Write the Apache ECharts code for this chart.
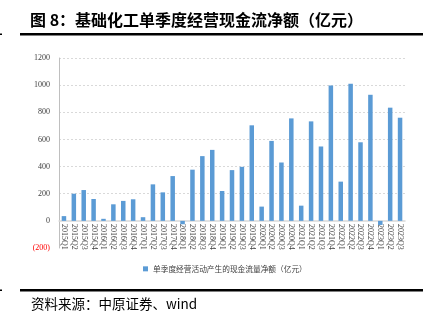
<!DOCTYPE html>
<html><head><meta charset="utf-8">
<script src="https://cdn.jsdelivr.net/npm/echarts@6/dist/echarts.min.js"></script>
<style>html,body{margin:0;padding:0;background:#fff}#c{width:430px;height:323px}</style>
</head><body><div id="c"></div>
<script>
const categories = ['2015Q1','2015Q2','2015Q3','2015Q4','2016Q1','2016Q2','2016Q3','2016Q4','2017Q1','2017Q2','2017Q3','2017Q4','2018Q1','2018Q2','2018Q3','2018Q4','2019Q1','2019Q2','2019Q3','2019Q4','2020Q1','2020Q2','2020Q3','2020Q4','2021Q1','2021Q2','2021Q3','2021Q4','2022Q1','2022Q2','2022Q3','2022Q4','2023Q1','2023Q2','2023Q3'];
const cashFlow = [35,200,227,161,15,122,147,159,27,269,210,330,-25,377,477,523,220,374,398,704,105,589,430,755,112,733,548,998,289,1010,579,929,-30,834,760];
const seriesName = '单季度经营活动产生的现金流量净额（亿元）';
const titleText = '图 8：基础化工单季度经营现金流净额（亿元）';
const sourceText = '资料来源：中原证券、wind';
const yMin = -200, yMax = 1200, yStep = 200;

const chart = echarts.init(document.getElementById('c'));
chart.setOption({
  animation: false,
  grid: {left: 59, right: 25, top: 58, bottom: 75},
  legend: {
    data: [seriesName], top: 260, left: 138, itemWidth: 5, itemHeight: 5, itemGap: 3,
    icon: 'rect',
    textStyle: {fontSize: 7.7, color: '#404040', fontFamily: 'Noto Sans CJK SC'}
  },
  xAxis: {
    type: 'category', data: categories,
    axisLine: {onZero: true, lineStyle: {color: '#d9d9d9', width: 1.5}},
    axisTick: {show: false},
    axisLabel: {rotate: -90, interval: 0, fontSize: 8, color: '#404040', fontFamily: 'Liberation Serif', margin: -24}
  },
  yAxis: {
    type: 'value', min: yMin, max: yMax, interval: yStep,
    axisLine: {show: true, lineStyle: {color: '#bfbfbf'}},
    axisTick: {show: false},
    axisLabel: {
      fontSize: 8, fontFamily: 'Liberation Serif', color: '#404040', margin: 9,
      formatter: v => v < 0 ? '{neg|(' + Math.abs(v) + ')}' : String(v),
      rich: {neg: {color: '#ff0000', fontSize: 8, fontFamily: 'Liberation Serif'}}
    },
    splitLine: {show: true, lineStyle: {type: [2, 2], color: ['transparent','transparent','#d9d9d9','#d9d9d9','#d9d9d9','#d9d9d9','#d9d9d9','#d9d9d9']}}
  },
  series: [{
    name: seriesName, type: 'bar', data: cashFlow, barWidth: 4.5,
    itemStyle: {color: '#5b9bd5'}
  }],
  graphic: [
    {type: 'text', left: 30, top: 12, style: {text: titleText, font: 'bold 16px "Noto Sans CJK SC"', fill: '#000'}},
    {type: 'rect', shape: {x: 20, y: 33, width: 403, height: 2.5}, style: {fill: '#000'}},
    {type: 'rect', shape: {x: 0, y: 33.5, width: 2, height: 1.5}, style: {fill: '#000'}},
    {type: 'rect', shape: {x: 20, y: 289, width: 403, height: 2.5}, style: {fill: '#000'}},
    {type: 'rect', shape: {x: 0, y: 289.5, width: 2, height: 1.5}, style: {fill: '#000'}},
    {type: 'text', left: 31, top: 297, style: {text: sourceText, font: '13.5px "Noto Sans CJK SC"', fill: '#000'}}
  ]
});
</script></body></html>
